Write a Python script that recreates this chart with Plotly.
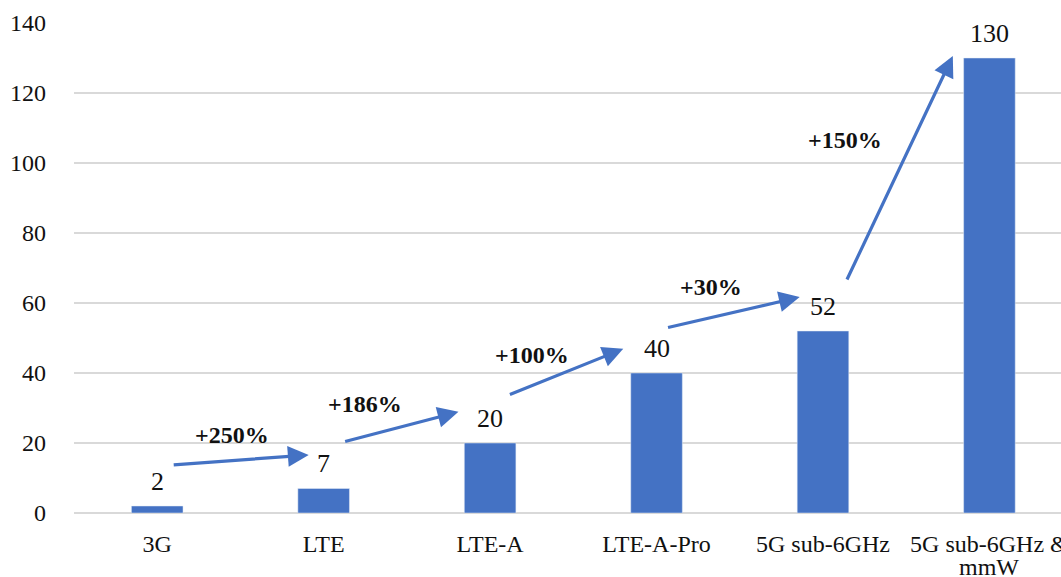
import plotly.graph_objects as go

categories = ["3G", "LTE", "LTE-A", "LTE-A-Pro", "5G sub-6GHz", "5G sub-6GHz &<br>mmW"]
values = [2, 7, 20, 40, 52, 130]
y_ticks = [0, 20, 40, 60, 80, 100, 120, 140]

growth_labels = ["+250%", "+186%", "+100%", "+30%", "+150%"]
growth_label_x = [0.45, 1.25, 2.25, 3.33, 4.13]
growth_label_y = [22.3, 31.1, 45.1, 64.6, 106.6]
arrow_start_x = [0.09, 1.12, 2.11, 3.06, 4.14]
arrow_start_y = [13.7, 20.3, 33.7, 52.9, 66.3]
arrow_end_x = [0.91, 1.81, 2.80, 3.86, 4.78]
arrow_end_y = [16.6, 28.9, 46.9, 61.7, 130.6]

BLUE = "#4472C4"
FONT = "Liberation Serif, Times New Roman, serif"
TXT = "#111111"

# first line of each category goes in the tick label; a wrapped second line
# is drawn just beneath it (tighter line spacing than plotly's default)
first_lines = [c.split("<br>")[0] for c in categories]
second_lines = [c.split("<br>")[1] if "<br>" in c else "" for c in categories]

fig = go.Figure()
fig.add_trace(go.Bar(
    x=list(range(len(categories))), y=values, marker_color=BLUE, width=0.31,
    hoverinfo="skip",
))

annotations = []
for i, v in enumerate(values):
    annotations.append(dict(
        x=i, y=v, xref="x", yref="y", text=str(v), showarrow=False,
        yshift=25, font=dict(family=FONT, size=26, color=TXT),
    ))
for i, s in enumerate(second_lines):
    if s:
        annotations.append(dict(
            x=i, y=0, xref="x", yref="paper", text=s, showarrow=False,
            yanchor="middle", yshift=-54, font=dict(family=FONT, size=24, color=TXT),
        ))
for i, t in enumerate(growth_labels):
    annotations.append(dict(
        x=growth_label_x[i], y=growth_label_y[i], xref="x", yref="y",
        text="<b>" + t + "</b>", showarrow=False,
        font=dict(family=FONT, size=24, color=TXT),
    ))
    annotations.append(dict(
        x=arrow_end_x[i], y=arrow_end_y[i], ax=arrow_start_x[i], ay=arrow_start_y[i],
        xref="x", yref="y", axref="x", ayref="y", text="", showarrow=True,
        arrowhead=2, arrowsize=1.3, arrowwidth=3.2, arrowcolor=BLUE,
    ))

fig.update_layout(
    width=1061, height=577,
    margin=dict(l=74, r=0, t=23, b=64, autoexpand=False),
    paper_bgcolor="white", plot_bgcolor="white",
    showlegend=False,
    annotations=annotations,
    xaxis=dict(
        tickmode="array", tickvals=list(range(len(categories))), ticktext=first_lines,
        range=[-0.5, 5.43], showgrid=False, zeroline=False, showline=False,
        ticks="", ticklabelstandoff=14, automargin=False, ticklabeloverflow="allow",
        tickfont=dict(family=FONT, size=24, color=TXT),
    ),
    yaxis=dict(
        range=[0, 140], tickvals=y_ticks, showgrid=True, gridcolor="#d9d9d9",
        gridwidth=1.5, zeroline=True, zerolinecolor="#d9d9d9", zerolinewidth=1.5,
        showline=False, ticks="", ticklabelstandoff=27, automargin=False,
        tickfont=dict(family=FONT, size=24, color=TXT),
    ),
)

fig.write_html(
    "out.html",
    config={"displayModeBar": False},
    post_script="document.body.style.margin='0';document.body.style.overflow='hidden';",
)
